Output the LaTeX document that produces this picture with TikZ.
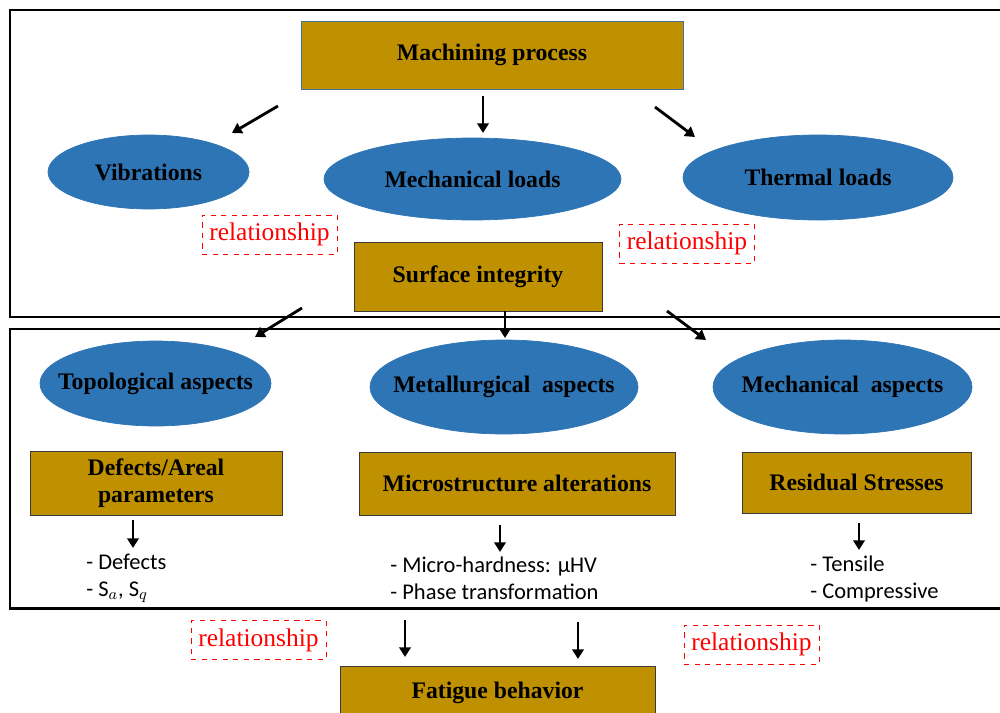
\documentclass[tikz,border=0pt]{standalone}
\usepackage{fontspec}
\setmainfont{Liberation Serif}
\newfontfamily\listfont{Carlito}
\usetikzlibrary{arrows.meta, shapes.geometric}
\definecolor{gold}{HTML}{BF9000}
\definecolor{ellblue}{HTML}{2E75B6}
\definecolor{mpline}{HTML}{41719C}
\definecolor{boxline}{HTML}{3A3A3A}
\tikzset{
  pbox/.style={rectangle, draw=boxline, thin, fill=gold, align=center, inner sep=0pt, font=\bfseries\fontsize{13.5}{15.5}\selectfont},
  asp/.style={ellipse, draw=ellblue, fill=ellblue, inner sep=0pt, label={[font=\bfseries\fontsize{13.5}{15.5}\selectfont]center:#1}},
  rel/.style={draw=red, dashed, thin, text=red, minimum width=2.7cm, minimum height=0.78cm, inner sep=0pt, font=\fontsize{14.5}{17}\selectfont},
  tra/.style={->, >={Triangle[length=5.5pt, width=6.5pt]}, line width=1.6pt},
  frm/.style={draw, line width=1.7pt},
  lst/.style={anchor=west, align=left, inner sep=0pt, font=\listfont\fontsize{12.8}{15.3}\selectfont}
}
\begin{document}
\begin{tikzpicture}
	\useasboundingbox (0,0) rectangle (20,-14.26);
	\clip (0,0) rectangle (20,-14.26);
	% frames
	\draw[frm] (0.2,-0.2) rectangle (20.2,-6.34);
	\draw[frm] (0.2,-6.58) rectangle (20.2,-12.16);
	% upper part
	\node[pbox, draw=mpline, minimum width=7.64cm, minimum height=1.36cm] (mp) at (9.84,-1.1) {Machining process};
	\node[asp=Vibrations, minimum width=4.02cm, minimum height=1.48cm] (vib) at (2.97,-3.44) {};
	\node[asp=Mechanical loads, minimum width=5.94cm, minimum height=1.64cm] (ml) at (9.45,-3.58) {};
	\node[asp=Thermal loads, minimum width=5.4cm, minimum height=1.7cm] (tl) at (16.36,-3.55) {};
	\node[rel] (r1) at (5.39,-4.69) {relationship};
	\node[rel] (r2) at (13.74,-4.87) {relationship};
	\node[pbox, minimum width=4.96cm, minimum height=1.38cm] (si) at (9.56,-5.53) {Surface integrity};
	% lower part
	\node[asp=Topological aspects, minimum width=4.62cm, minimum height=1.7cm] (top) at (3.11,-7.67) {};
	\node[asp=Metallurgical~ aspects, minimum width=5.36cm, minimum height=1.88cm] (met) at (10.08,-7.74) {};
	\node[asp=Mechanical~ aspects, minimum width=5.18cm, minimum height=1.88cm] (mec) at (16.85,-7.74) {};
	\node[pbox, minimum width=5.04cm, minimum height=1.28cm] (def) at (3.12,-9.66) {Defects/Areal\\parameters};
	\node[pbox, minimum width=6.32cm, minimum height=1.26cm] (mic) at (10.34,-9.67) {Microstructure alterations};
	\node[pbox, minimum width=4.58cm, minimum height=1.22cm] (res) at (17.13,-9.65) {Residual Stresses};
	\node[lst] (defl) at (1.72,-11.57) {- Defects\\- S$_a$, S$_q$};
	\node[lst] (micl) at (7.8,-11.56) {- Micro-hardness: µHV\\- Phase transformation};
	\node[lst] (resl) at (16.2,-11.58) {- Tensile\\- Compressive};
	% bottom
	\node[rel] (r3) at (5.17,-12.8) {relationship};
	\node[rel] (r4) at (15.03,-12.89) {relationship};
	\node[pbox, minimum width=6.3cm, minimum height=1.08cm] (fat) at (9.95,-13.86) {Fatigue behavior};
	% arrow ends
	\coordinate (a1) at (5.56,-2.12); \coordinate (a1e) at (4.64,-2.66);
	\coordinate (a2) at (9.66,-1.92); \coordinate (a2e) at (9.66,-2.66);
	\coordinate (a3) at (13.1,-2.14); \coordinate (a3e) at (13.9,-2.74);
	\coordinate (b1) at (6.04,-6.16); \coordinate (b1e) at (5.1,-6.74);
	\coordinate (b2) at (10.1,-6.22); \coordinate (b2e) at (10.1,-6.76);
	\coordinate (b3) at (13.34,-6.22); \coordinate (b3e) at (14.12,-6.8);
	\coordinate (c1) at (2.66,-10.4); \coordinate (c1e) at (2.66,-10.96);
	\coordinate (c2) at (10.0,-10.5); \coordinate (c2e) at (10.0,-11.04);
	\coordinate (c3) at (17.18,-10.46); \coordinate (c3e) at (17.18,-11.0);
	\coordinate (d1) at (8.1,-12.4); \coordinate (d1e) at (8.1,-13.14);
	\coordinate (d2) at (11.56,-12.44); \coordinate (d2e) at (11.56,-13.18);
	\draw[tra] (a1) -- (a1e); \draw[tra] (a2) -- (a2e); \draw[tra] (a3) -- (a3e);
	\draw[tra] (b1) -- (b1e); \draw[tra] (b2) -- (b2e); \draw[tra] (b3) -- (b3e);
	\draw[tra] (c1) -- (c1e); \draw[tra] (c2) -- (c2e); \draw[tra] (c3) -- (c3e);
	\draw[tra] (d1) -- (d1e); \draw[tra] (d2) -- (d2e);
\end{tikzpicture}
\end{document}
